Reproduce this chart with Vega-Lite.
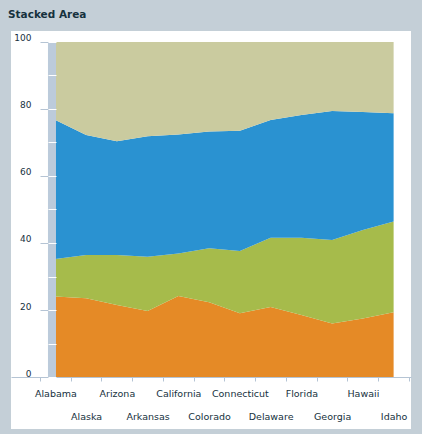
{
  "$schema": "https://vega.github.io/schema/vega-lite/v6.json",
  "width": 400,
  "height": 398,
  "autosize": {"type": "none"},
  "padding": {"left": 11, "top": 31, "right": 11, "bottom": 5},
  "background": "#c4cfd7",
  "title": {
    "text": "Stacked Area",
    "anchor": "start",
    "font": "DejaVu Sans",
    "fontSize": 10.5,
    "fontWeight": "bold",
    "color": "#16313d",
    "baseline": "alphabetic",
    "offset": 12,
    "dx": -3,
    "dy": 9
  },
  "config": {"view": {"fill": "white", "stroke": null}},
  "layer": [
    {
      "data": {
        "values": [
          {"state": "Alabama", "series": "Series 1", "k": 1, "value": 24.0},
          {"state": "Alaska", "series": "Series 1", "k": 1, "value": 23.5},
          {"state": "Arizona", "series": "Series 1", "k": 1, "value": 21.5},
          {"state": "Arkansas", "series": "Series 1", "k": 1, "value": 19.7},
          {"state": "California", "series": "Series 1", "k": 1, "value": 24.2},
          {"state": "Colorado", "series": "Series 1", "k": 1, "value": 22.3},
          {"state": "Connecticut", "series": "Series 1", "k": 1, "value": 19.0},
          {"state": "Delaware", "series": "Series 1", "k": 1, "value": 20.9},
          {"state": "Florida", "series": "Series 1", "k": 1, "value": 18.5},
          {"state": "Georgia", "series": "Series 1", "k": 1, "value": 16.0},
          {"state": "Hawaii", "series": "Series 1", "k": 1, "value": 17.5},
          {"state": "Idaho", "series": "Series 1", "k": 1, "value": 19.3},
          {"state": "Alabama", "series": "Series 2", "k": 2, "value": 11.2},
          {"state": "Alaska", "series": "Series 2", "k": 2, "value": 12.9},
          {"state": "Arizona", "series": "Series 2", "k": 2, "value": 14.9},
          {"state": "Arkansas", "series": "Series 2", "k": 2, "value": 16.2},
          {"state": "California", "series": "Series 2", "k": 2, "value": 12.7},
          {"state": "Colorado", "series": "Series 2", "k": 2, "value": 16.1},
          {"state": "Connecticut", "series": "Series 2", "k": 2, "value": 18.6},
          {"state": "Delaware", "series": "Series 2", "k": 2, "value": 20.7},
          {"state": "Florida", "series": "Series 2", "k": 2, "value": 23.1},
          {"state": "Georgia", "series": "Series 2", "k": 2, "value": 24.9},
          {"state": "Hawaii", "series": "Series 2", "k": 2, "value": 26.4},
          {"state": "Idaho", "series": "Series 2", "k": 2, "value": 27.1},
          {"state": "Alabama", "series": "Series 3", "k": 3, "value": 41.5},
          {"state": "Alaska", "series": "Series 3", "k": 3, "value": 35.8},
          {"state": "Arizona", "series": "Series 3", "k": 3, "value": 34.0},
          {"state": "Arkansas", "series": "Series 3", "k": 3, "value": 36.0},
          {"state": "California", "series": "Series 3", "k": 3, "value": 35.5},
          {"state": "Colorado", "series": "Series 3", "k": 3, "value": 34.9},
          {"state": "Connecticut", "series": "Series 3", "k": 3, "value": 35.9},
          {"state": "Delaware", "series": "Series 3", "k": 3, "value": 35.1},
          {"state": "Florida", "series": "Series 3", "k": 3, "value": 36.6},
          {"state": "Georgia", "series": "Series 3", "k": 3, "value": 38.5},
          {"state": "Hawaii", "series": "Series 3", "k": 3, "value": 35.2},
          {"state": "Idaho", "series": "Series 3", "k": 3, "value": 32.3},
          {"state": "Alabama", "series": "Series 4", "k": 4, "value": 23.3},
          {"state": "Alaska", "series": "Series 4", "k": 4, "value": 27.8},
          {"state": "Arizona", "series": "Series 4", "k": 4, "value": 29.6},
          {"state": "Arkansas", "series": "Series 4", "k": 4, "value": 28.1},
          {"state": "California", "series": "Series 4", "k": 4, "value": 27.6},
          {"state": "Colorado", "series": "Series 4", "k": 4, "value": 26.7},
          {"state": "Connecticut", "series": "Series 4", "k": 4, "value": 26.5},
          {"state": "Delaware", "series": "Series 4", "k": 4, "value": 23.3},
          {"state": "Florida", "series": "Series 4", "k": 4, "value": 21.8},
          {"state": "Georgia", "series": "Series 4", "k": 4, "value": 20.6},
          {"state": "Hawaii", "series": "Series 4", "k": 4, "value": 20.9},
          {"state": "Idaho", "series": "Series 4", "k": 4, "value": 21.3}
        ]
      },
      "mark": {"type": "area", "interpolate": "linear"},
      "encoding": {
        "x": {
          "field": "state",
          "type": "ordinal",
          "bandPosition": 0.5,
          "scale": {"type": "band", "paddingInner": 0, "paddingOuter": 0.504, "align": 0.935},
          "axis": {
            "orient": "bottom",
            "offset": -52,
            "title": null,
            "tickBand": "extent",
            "tickSize": 4,
            "tickColor": "#b5c4d4",
            "domainColor": "#b5c4d4",
            "labelAngle": 0,
            "labelFont": "DejaVu Sans",
            "labelFontSize": 9.5,
            "labelColor": "#16313d",
            "labelBaseline": "top",
            "labelOverlap": false,
            "labelFlush": false,
            "labelPadding": {
              "condition": {
                "test": "indexof(['Alaska','Arkansas','Colorado','Delaware','Georgia','Idaho'], datum.value) >= 0",
                "value": 30
              },
              "value": 7
            }
          }
        },
        "y": {
          "field": "value",
          "type": "quantitative",
          "stack": "zero",
          "scale": {"domain": [-15.52, 103.28], "nice": false, "zero": false},
          "axis": {
            "orient": "left",
            "offset": -37,
            "title": null,
            "values": [0, 20, 40, 60, 80, 100],
            "domain": false,
            "grid": false,
            "tickSize": 8,
            "tickColor": "#b5c4d4",
            "labelFont": "DejaVu Sans",
            "labelFontSize": 9,
            "labelColor": "#16313d",
            "labelBaseline": "alphabetic",
            "labelOffset": -1,
            "labelPadding": 9
          }
        },
        "color": {
          "field": "series",
          "type": "nominal",
          "scale": {
            "domain": ["Series 1", "Series 2", "Series 3", "Series 4"],
            "range": ["#e58a26", "#a6bb4b", "#2a92d1", "#cacb9f"]
          },
          "legend": null
        },
        "order": {"field": "k", "type": "quantitative"}
      }
    },
    {
      "data": {"values": [{"from": 0, "to": 100}]},
      "mark": {"type": "rule", "color": "#bccbdb", "strokeWidth": 8, "strokeCap": "butt"},
      "encoding": {
        "x": {"datum": "Alabama", "type": "ordinal", "bandPosition": 0.39},
        "y": {
          "field": "from",
          "type": "quantitative",
          "axis": {
            "orient": "left",
            "offset": -45,
            "title": null,
            "values": [0, 10, 20, 30, 40, 50, 60, 70, 80, 90, 100],
            "domain": false,
            "grid": false,
            "labels": false,
            "tickSize": 8,
            "tickColor": "white",
            "zindex": 1
          }
        },
        "y2": {"field": "to"}
      }
    }
  ],
  "resolve": {"axis": {"y": "independent"}}
}
